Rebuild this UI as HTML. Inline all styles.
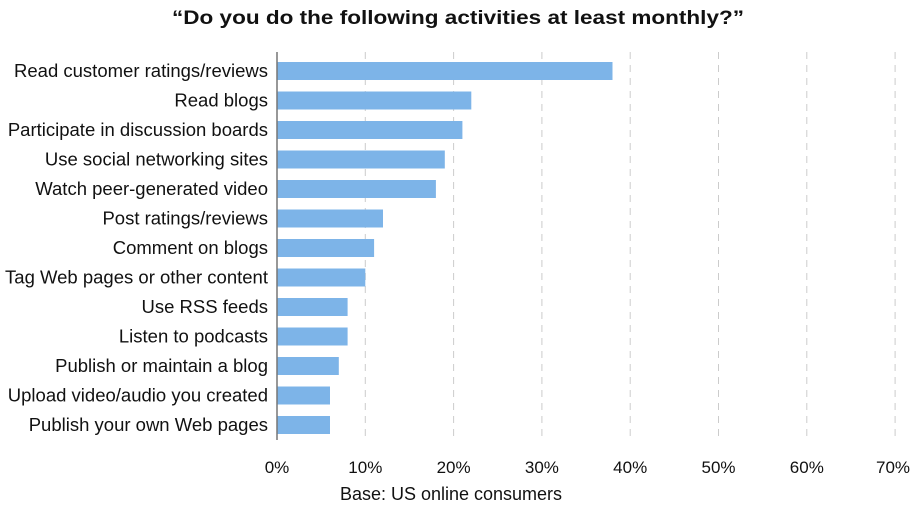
<!DOCTYPE html><html><head><style>body{margin:0;background:#fff}</style></head><body>
<svg width="914" height="508" xmlns="http://www.w3.org/2000/svg" font-family="Liberation Sans, sans-serif">
<rect width="914" height="508" fill="#fff"/>
<text x="458" y="24" text-anchor="middle" font-size="19" font-weight="bold" fill="#111" textLength="572" lengthAdjust="spacingAndGlyphs">“Do you do the following activities at least monthly?”</text>
<g stroke="#ccc" stroke-dasharray="7,6" stroke-width="1">
<line x1="365.3" y1="52" x2="365.3" y2="440"/><line x1="453.6" y1="52" x2="453.6" y2="440"/><line x1="541.9" y1="52" x2="541.9" y2="440"/><line x1="630.2" y1="52" x2="630.2" y2="440"/><line x1="718.5" y1="52" x2="718.5" y2="440"/><line x1="806.8" y1="52" x2="806.8" y2="440"/><line x1="895.1" y1="52" x2="895.1" y2="440"/>
</g>
<g fill="#7db4e8">
<rect x="277" y="62" width="335.5" height="18"/>
<rect x="277" y="91.5" width="194.3" height="18"/>
<rect x="277" y="121" width="185.4" height="18"/>
<rect x="277" y="150.5" width="167.8" height="18"/>
<rect x="277" y="180" width="158.9" height="18"/>
<rect x="277" y="209.5" width="106" height="18"/>
<rect x="277" y="239" width="97.1" height="18"/>
<rect x="277" y="268.5" width="88.3" height="18"/>
<rect x="277" y="298" width="70.6" height="18"/>
<rect x="277" y="327.5" width="70.6" height="18"/>
<rect x="277" y="357" width="61.8" height="18"/>
<rect x="277" y="386.5" width="53" height="18"/>
<rect x="277" y="416" width="53" height="18"/>
</g>
<line x1="277" y1="52" x2="277" y2="440" stroke="#777" stroke-width="1.5"/>
<g font-size="18.5" fill="#111" text-anchor="end">
<text x="268" y="77">Read customer ratings/reviews</text>
<text x="268" y="106.5">Read blogs</text>
<text x="268" y="136">Participate in discussion boards</text>
<text x="268" y="165.5">Use social networking sites</text>
<text x="268" y="195">Watch peer-generated video</text>
<text x="268" y="224.5">Post ratings/reviews</text>
<text x="268" y="254">Comment on blogs</text>
<text x="268" y="283.5">Tag Web pages or other content</text>
<text x="268" y="313">Use RSS feeds</text>
<text x="268" y="342.5">Listen to podcasts</text>
<text x="268" y="372">Publish or maintain a blog</text>
<text x="268" y="401.5">Upload video/audio you created</text>
<text x="268" y="431">Publish your own Web pages</text>
</g>
<g font-size="17" fill="#111" text-anchor="middle">
<text x="277" y="473">0%</text><text x="365.3" y="473">10%</text><text x="453.6" y="473">20%</text><text x="541.9" y="473">30%</text><text x="630.2" y="473">40%</text><text x="718.5" y="473">50%</text><text x="806.8" y="473">60%</text><text x="893" y="473">70%</text>
<text x="451" y="500" font-size="18">Base: US online consumers</text>
</g>
</svg>
</body></html>
